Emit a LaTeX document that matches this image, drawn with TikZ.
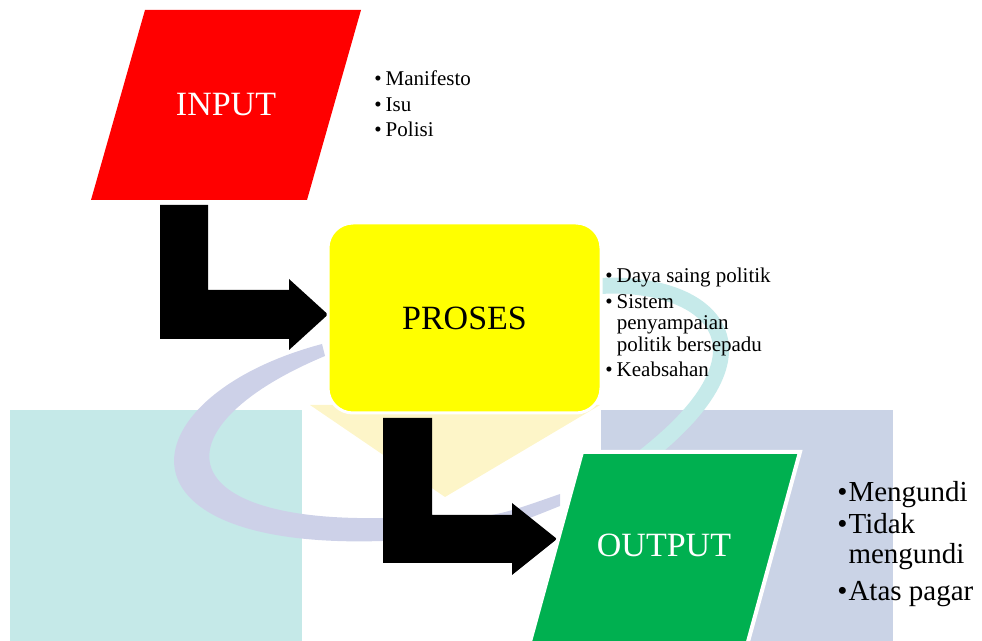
\documentclass[tikz,border=0pt]{standalone}
\usepackage{fontspec}
\setmainfont{Liberation Serif}
\usetikzlibrary{positioning}

\definecolor{inred}{HTML}{FF0000}
\definecolor{procyellow}{HTML}{FFFF00}
\definecolor{outgreen}{HTML}{00B050}
\definecolor{wmteal}{HTML}{C5E9E8}
\definecolor{wmblue}{HTML}{CAD3E6}
\definecolor{wmyellow}{HTML}{FDF5C8}
\definecolor{wmarcblue}{HTML}{CDD1E8}
\definecolor{wmarcteal}{HTML}{C6EAEA}

\tikzset{
  boxlabel/.style={inner sep=0pt, font=\fontsize{17}{20}\selectfont},
  procbox/.style={fill=procyellow, draw=white, line width=1.5pt, rounded corners=12.5pt,
    minimum width=136.5pt, minimum height=95pt, font=\fontsize{17}{20}\selectfont},
  bentarrow/.style={fill=black},
  pointlist/.style={anchor=base west, inner sep=0pt},
}

\begin{document}
\begin{tikzpicture}[x=0.5pt, y=-0.5pt]
  \useasboundingbox (0,0) rectangle (982,641);
  \clip (0,0) rectangle (982,641);

  % faded logo behind the chart
  \fill[wmteal] (10,410) rectangle (302,641);
  \fill[wmblue] (601,410) rectangle (893,641);
  \fill[wmyellow] (310,405) -- (600,405) -- (445,497) -- cycle;
  \fill[wmarcblue] (322,344) .. controls (130,395) and (100,550) .. (382,541)
    -- (440,537) .. controls (500,530) .. (560,506) -- (560,494)
    .. controls (500,515) .. (440,522) -- (382,518)
    .. controls (165,522) and (160,425) .. (325,356) -- cycle;
  \draw[wmarcteal, line width=8pt] (600,286) .. controls (705,280) and (790,345) .. (640,460);

  % input
  \fill[inred] (145,10) -- (361,10) -- (307,200) -- (91,200) -- cycle;
  \node[boxlabel, text=white] (input) at (226,105) {INPUT};

  % bent arrows
  \fill[bentarrow] (160,205) -- (208,205) -- (208,290) -- (289,290) -- (289,279)
    -- (328,314.5) -- (289,350) -- (289,339) -- (160,339) -- cycle;
  \fill[bentarrow] (383,418) -- (432,418) -- (432,515) -- (512,515) -- (512,503)
    -- (557,539) -- (512,575) -- (512,563) -- (383,563) -- cycle;

  % proses
  \node[procbox] (proses) at (464.5,318) {PROSES};

  % output
  \filldraw[fill=outgreen, draw=white, line width=2pt]
    (582,452) -- (800,452) -- (743,660) -- (525,660) -- cycle;
  \node[boxlabel, text=white] (output) at (664,545) {OUTPUT};

  % point lists
  \node[pointlist, font=\fontsize{10.5}{12.75}\selectfont] (inlist) at (374,86)
    {\begin{tabular}[t]{@{}l@{\hspace{2pt}}l@{}}
      \textbullet & Manifesto\\
      \textbullet & Isu\\
      \textbullet & Polisi
    \end{tabular}};
  \node[pointlist, font=\fontsize{10.5}{10.75}\selectfont] (proclist) at (605,283)
    {\begin{tabular}[t]{@{}l@{\hspace{2pt}}l@{}}
      \textbullet & Daya saing politik\\[2pt]
      \textbullet & Sistem\\
                  & penyampaian\\
                  & politik bersepadu\\[2pt]
      \textbullet & Keabsahan
    \end{tabular}};
  \node[pointlist, font=\fontsize{14.5}{15}\selectfont] (outlist) at (837,502)
    {\begin{tabular}[t]{@{}l@{\hspace{0.5pt}}l@{}}
      \textbullet & Mengundi\\[1pt]
      \textbullet & Tidak\\
                  & mengundi\\[3.5pt]
      \textbullet & Atas pagar
    \end{tabular}};
\end{tikzpicture}
\end{document}
